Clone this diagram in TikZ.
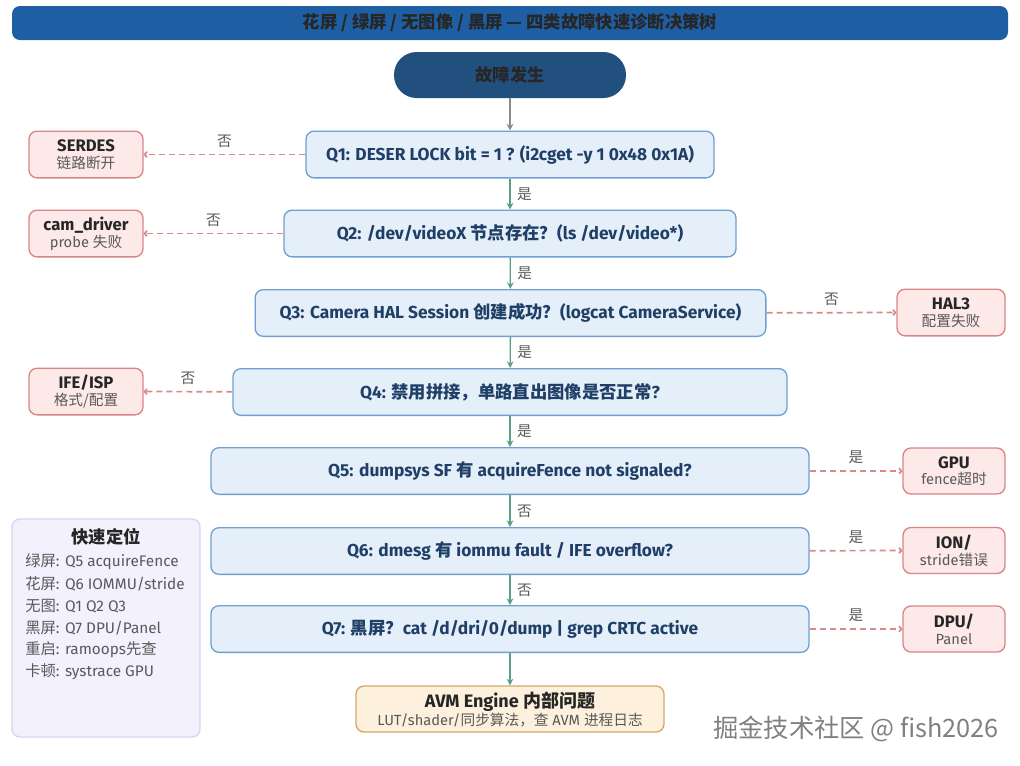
\documentclass[tikz,border=0pt]{standalone}
\usepackage{fontspec}
\setmainfont{Fira Sans}
\newfontfamily\cjk{Noto Sans CJK SC}
\usetikzlibrary{arrows.meta,positioning}

\newcommand{\zh}[1]{{\cjk #1}}

\definecolor{barblue}{HTML}{1E5FA3}
\definecolor{startblue}{HTML}{22507E}
\definecolor{qfill}{HTML}{E4EFFA}
\definecolor{qline}{HTML}{6FA0D2}
\definecolor{qtext}{HTML}{1F3F66}
\definecolor{rfill}{HTML}{FCE9E8}
\definecolor{rline}{HTML}{D98585}
\definecolor{afill}{HTML}{FDF1DD}
\definecolor{aline}{HTML}{D4A86A}
\definecolor{lfill}{HTML}{F4F1FE}
\definecolor{lline}{HTML}{DAD3F3}
\definecolor{yesgreen}{HTML}{5C9E85}
\definecolor{nored}{HTML}{D88A8A}

\tikzset{
  qbox/.style={draw=qline, fill=qfill, rounded corners=6pt, line width=1pt,
    minimum height=35pt, inner sep=0pt, text=qtext, font=\fontsize{13}{15}\selectfont\bfseries},
  faultbox/.style={draw=rline, fill=rfill, rounded corners=6pt, line width=1pt,
    minimum height=35pt, inner sep=0pt, align=center, font=\fontsize{11}{12.5}\selectfont, text=black!65},
  godown/.style={draw=yesgreen, line width=1pt, -{Stealth[length=5pt,width=5pt]}},
  goside/.style={draw=nored, line width=1.3pt, dash pattern=on 4.5pt off 3pt, -{To[length=3pt,width=5pt]}},
  lbl/.style={font=\fontsize{11}{13}\selectfont, text=black!65, inner sep=0.75pt},
  tip/.style={anchor=west, inner sep=0.75pt, text=black!65, font=\fontsize{11.5}{13}\selectfont},
}

\newcommand{\ftitle}[1]{{\fontsize{12.5}{13.5}\selectfont\bfseries\color{black!85}#1}}

\begin{document}
\begin{tikzpicture}[x=0.75pt,y=0.75pt,yscale=-1,xscale=1]
\useasboundingbox (0,0) rectangle (1020,765);

% title bar
\node (title) at (510,23) [fill=barblue, rounded corners=6pt, minimum width=747pt, minimum height=25.5pt, inner sep=0pt,
  text=black!85, font=\fontsize{13}{15}\selectfont\bfseries]
  {\zh{花屏 / 绿屏 / 无图像 / 黑屏 — 四类故障快速诊断决策树}};

% start
\node (start) at (510,75) [fill=startblue, rounded corners=17pt, minimum width=174pt, minimum height=34.5pt, inner sep=0pt,
  text=black!85, font=\fontsize{13}{15}\selectfont\bfseries] {\zh{故障发生}};

% questions
\node (q1) at (510,154.5) [qbox, minimum width=306pt] {Q1: DESER LOCK bit = 1 ? (i2cget -y 1 0x48 0x1A)};
\node (q2) at (510,233.5) [qbox, minimum width=339pt] {Q2: /dev/videoX \zh{节点存在？}(ls /dev/video*)};
\node (q3) at (510.5,313) [qbox, minimum width=383pt] {Q3: Camera HAL Session \zh{创建成功？}(logcat CameraService)};
\node (q4) at (510,392) [qbox, minimum width=415.5pt] {Q4: \zh{禁用拼接，单路直出图像是否正常}?};
\node (q5) at (510,471) [qbox, minimum width=448.5pt] {Q5: dumpsys SF \zh{有} acquireFence not signaled?};
\node (q6) at (510,551) [qbox, minimum width=448.5pt] {Q6: dmesg \zh{有} iommu fault / IFE overflow?};
\node (q7) at (510,629) [qbox, minimum width=448.5pt] {Q7: \zh{黑屏？}cat /d/dri/0/dump | grep CRTC active};

% end of the tree
\node (avm) at (510,709) [draw=aline, fill=afill, rounded corners=6pt, line width=1pt, minimum width=231pt, minimum height=34.5pt,
  inner sep=0pt, align=center, text=black!65, font=\fontsize{11}{13.5}\selectfont]
  {{\fontsize{13.5}{14}\selectfont\bfseries\color{black!85}AVM Engine \zh{内部问题}}\\LUT/shader/\zh{同步算法，查} AVM \zh{进程日志}};

% fault causes
\node (serdes) at (86,154.5) [faultbox, minimum width=85.5pt] {\ftitle{SERDES}\\\zh{链路断开}};
\node (camdrv) at (86,233.5) [faultbox, minimum width=85.5pt] {\ftitle{cam\_driver}\\probe \zh{失败}};
\node (ifeisp) at (86,391.5) [faultbox, minimum width=85.5pt] {\ftitle{IFE/ISP}\\\zh{格式/配置}};
\node (hal) at (951,312.5) [faultbox, minimum width=81pt] {\ftitle{HAL3}\\\zh{配置失败}};
\node (gpu) at (954,471) [faultbox, minimum width=76.5pt, minimum height=34.5pt] {\ftitle{GPU}\\fence\zh{超时}};
\node (ion) at (954,550.5) [faultbox, minimum width=76.5pt, minimum height=34.5pt] {\ftitle{ION/}\\stride\zh{错误}};
\node (dpu) at (954,629) [faultbox, minimum width=76.5pt, minimum height=34.5pt] {\ftitle{DPU/}\\Panel};

% main path
\draw [draw=black!45, line width=1pt, -{Stealth[length=5pt,width=5pt]}] (start) -- (q1);
\draw [godown] (q1) -- node [lbl, right=4pt] {\zh{是}} (q2);
\draw [godown] (q2) -- node [lbl, right=4pt] {\zh{是}} (q3);
\draw [godown] (q3) -- node [lbl, right=4pt] {\zh{是}} (q4);
\draw [godown] (q4) -- node [lbl, right=4pt] {\zh{是}} (q5);
\draw [godown] (q5) -- node [lbl, right=4pt] {\zh{否}} (q6);
\draw [godown] (q6) -- node [lbl, right=4pt] {\zh{否}} (q7);
\draw [godown] (q7) -- (avm);

% branches
\draw [goside] (q1) -- node [lbl, above=4pt] {\zh{否}} (serdes);
\draw [goside] (q2) -- node [lbl, above=4pt] {\zh{否}} (camdrv);
\draw [goside] (q3) -- node [lbl, above=4pt] {\zh{否}} (hal);
\draw [goside] (q4) -- node [lbl, above=4pt] {\zh{否}} (ifeisp);
\draw [goside] (q5) -- node [lbl, above=4pt] {\zh{是}} (gpu);
\draw [goside] (q6) -- node [lbl, above=4pt] {\zh{是}} (ion);
\draw [goside] (q7) -- node [lbl, above=4pt] {\zh{是}} (dpu);

% quick lookup
\draw [draw=lline, fill=lfill, rounded corners=6pt, line width=1pt] (12,519) rectangle (200,737);
\node (look) at (106,537) [inner sep=0pt, font=\fontsize{13}{15}\selectfont\bfseries, text=black!85] {\zh{快速定位}};
\node (look1) at (24,562) [tip] {\zh{绿屏}: Q5 acquireFence};
\node (look2) at (24,584) [tip] {\zh{花屏}: Q6 IOMMU/stride};
\node (look3) at (24,606) [tip] {\zh{无图}: Q1 Q2 Q3};
\node (look4) at (24,628) [tip] {\zh{黑屏}: Q7 DPU/Panel};
\node (look5) at (24,650) [tip] {\zh{重启}: ramoops\zh{先查}};
\node (look6) at (24,672) [tip] {\zh{卡顿}: systrace GPU};

% watermark
\node (mark) at (856,729) [inner sep=0pt, text=black!50, font=\fontsize{19}{21}\selectfont] {\zh{掘金技术社区 @ fish2026}};

\end{tikzpicture}
\end{document}
